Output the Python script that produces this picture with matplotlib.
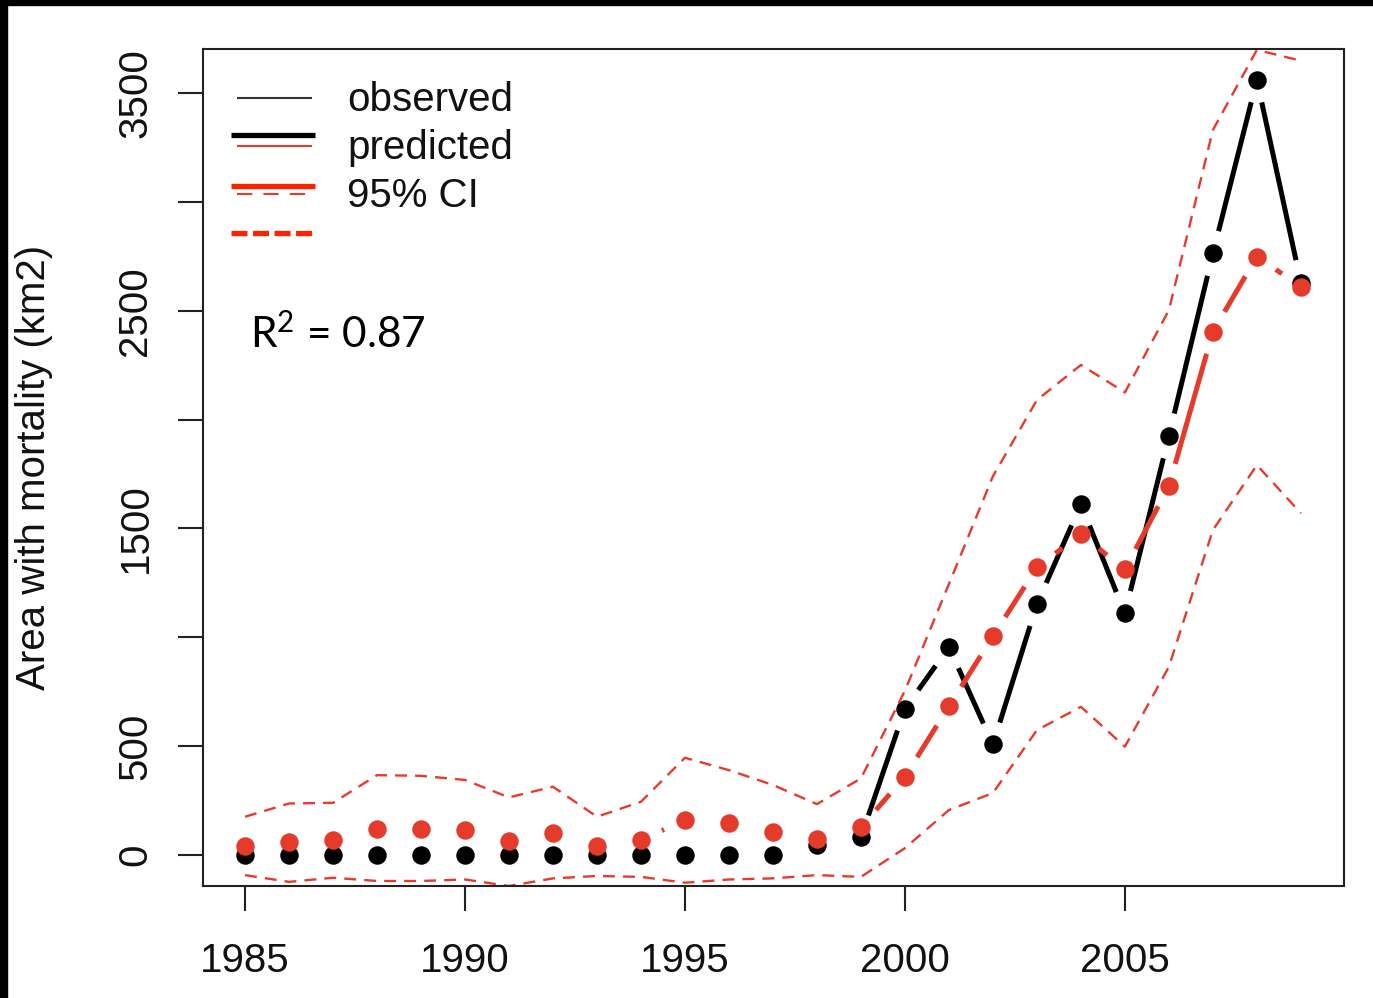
import numpy as np
import matplotlib
matplotlib.use("Agg")
import matplotlib.pyplot as plt
from matplotlib.lines import Line2D
from matplotlib.patches import Rectangle

plt.rcParams['font.family'] = ['Liberation Sans', 'DejaVu Sans']
plt.rcParams['mathtext.fontset'] = 'custom'
plt.rcParams['mathtext.rm'] = 'Lato'
plt.rcParams['mathtext.it'] = 'Lato'
plt.rcParams['mathtext.default'] = 'rm'
plt.rcParams['lines.scale_dashes'] = False

# ---- data -------------------------------------------------------------
years = list(range(1985, 2010))
observed = [0, 0, 0, 0, 0, 0, 0, 0, 0, 0, 0, 0, 0,
            46, 82, 672, 955, 508, 1153, 1611, 1110, 1925, 2763, 3560, 2629]
predicted = [43, 61, 69, 122, 119, 115, 66, 103, 41, 69, 161, 146, 107,
             72, 128, 360, 684, 1004, 1322, 1473, 1312, 1695, 2404, 2749, 2610]
ci_upper = [176, 237, 240, 367, 364, 345, 265, 314, 176, 245, 447, 390, 322,
            234, 352, 755, 1245, 1740, 2090, 2251, 2125, 2503, 3330, 3698, 3648]
ci_lower = [-92, -123, -104, -119, -119, -112, -142, -107, -96, -100, -127, -112, -107,
            -92, -100, 32, 207, 285, 574, 681, 498, 865, 1493, 1791, 1570]

x_ticks = [1985, 1990, 1995, 2000, 2005]
y_ticks = [0, 500, 1000, 1500, 2000, 2500, 3000, 3500]
y_tick_labels = ["0", "500", "", "1500", "", "2500", "", "3500"]
legend_labels = ["observed", "predicted", "95% CI"]
r2_text = r"$\mathrm{R}^{2}$ = 0.87"

RED = "#E63A2A"
LEG_RED = "#FF2200"
W, H = 1373, 998
DPI = 100
FS = 29

fig = plt.figure(figsize=(W / DPI, H / DPI), dpi=DPI)
ax = fig.add_axes([203 / W, 1 - 886 / H, (1344 - 203) / W, (886 - 49) / H])
ax.set_xlim(1984.045, 2009.98)
ax.set_ylim(-142, 3702)

for s in ax.spines.values():
    s.set_linewidth(1.5)
    s.set_color("#222222")


def plot_b(xs, ys, gap_px, **kw):
    """Connect points like R's type='b': segments stop short of each point."""
    pts = ax.transData.transform(np.column_stack([xs, ys]))
    inv = ax.transData.inverted()
    for p0, p1 in zip(pts[:-1], pts[1:]):
        d = p1 - p0
        L = np.hypot(*d)
        if L <= 2 * gap_px:
            continue
        u = d / L
        a = inv.transform(p0 + u * gap_px)
        b = inv.transform(p1 - u * gap_px)
        ax.plot([a[0], b[0]], [a[1], b[1]], solid_capstyle="butt", **kw)


# observed
plot_b(years, observed, 23, color="black", lw=3.6)
ax.plot(years, observed, "o", color="black", ms=13.3, mec="none")
# predicted
plot_b(years, predicted, 23, color=RED, lw=3.6)
ax.plot(years, predicted, "o", color=RED, ms=13.3, mec="none")
# confidence band
for band in (ci_upper, ci_lower):
    ax.plot(years, band, color=RED, lw=1.7, dashes=(8.6, 5.8))

ax.set_xticks(x_ticks)
ax.set_xticklabels([str(v) for v in x_ticks])
ax.set_yticks(y_ticks)
ax.set_yticklabels(y_tick_labels, rotation=90, va="center")
ax.tick_params(axis="both", length=18, width=1.5, color="#222222",
               labelsize=FS, labelcolor="#111111")
ax.tick_params(axis="x", pad=22)
ax.tick_params(axis="y", pad=17)

ax.set_ylabel("Area with mortality (km2)", fontsize=FS, color="#111111")
ax.yaxis.set_label_coords((53 - 203) / (1344 - 203), 0.5)

# R-squared annotation
ax.text((250 - 203) / (1344 - 203), (886 - 348) / (886 - 49), r2_text,
        transform=ax.transAxes, fontsize=30.5, family="Lato", color="black",
        ha="left", va="baseline")


# legend: thin keys with labels, thick keys beside them
def fig_line(x0, x1, y, **kw):
    fig.add_artist(Line2D([x0 / W, x1 / W], [1 - y / H, 1 - y / H],
                          transform=fig.transFigure, solid_capstyle="butt",
                          dash_capstyle="butt", **kw))


fig_line(237, 312, 97.7, color="#333333", lw=1.5)
fig_line(237, 312, 146, color=RED, lw=1.5)
fig_line(237, 312, 194.3, color=RED, lw=1.5, dashes=(11, 8))
fig_line(231, 315, 135, color="black", lw=3.8)
fig_line(231, 315, 185.7, color=LEG_RED, lw=3.8)
fig_line(231, 315, 233.3, color=LEG_RED, lw=3.8, dashes=(11.5, 4))

for lab, yb in zip(legend_labels, [111, 159, 207]):
    fig.text(347 / W, 1 - yb / H, lab, fontsize=FS, color="#111111",
             ha="left", va="baseline")

# dark frame strips along the top and left edges
fig.add_artist(Rectangle((0, 0), 7 / W, 1, transform=fig.transFigure,
                         color="black", zorder=10))
fig.add_artist(Rectangle((0, 1 - 5 / H), 1, 5 / H, transform=fig.transFigure,
                         color="black", zorder=10))

fig.savefig("out.png", dpi=DPI)
